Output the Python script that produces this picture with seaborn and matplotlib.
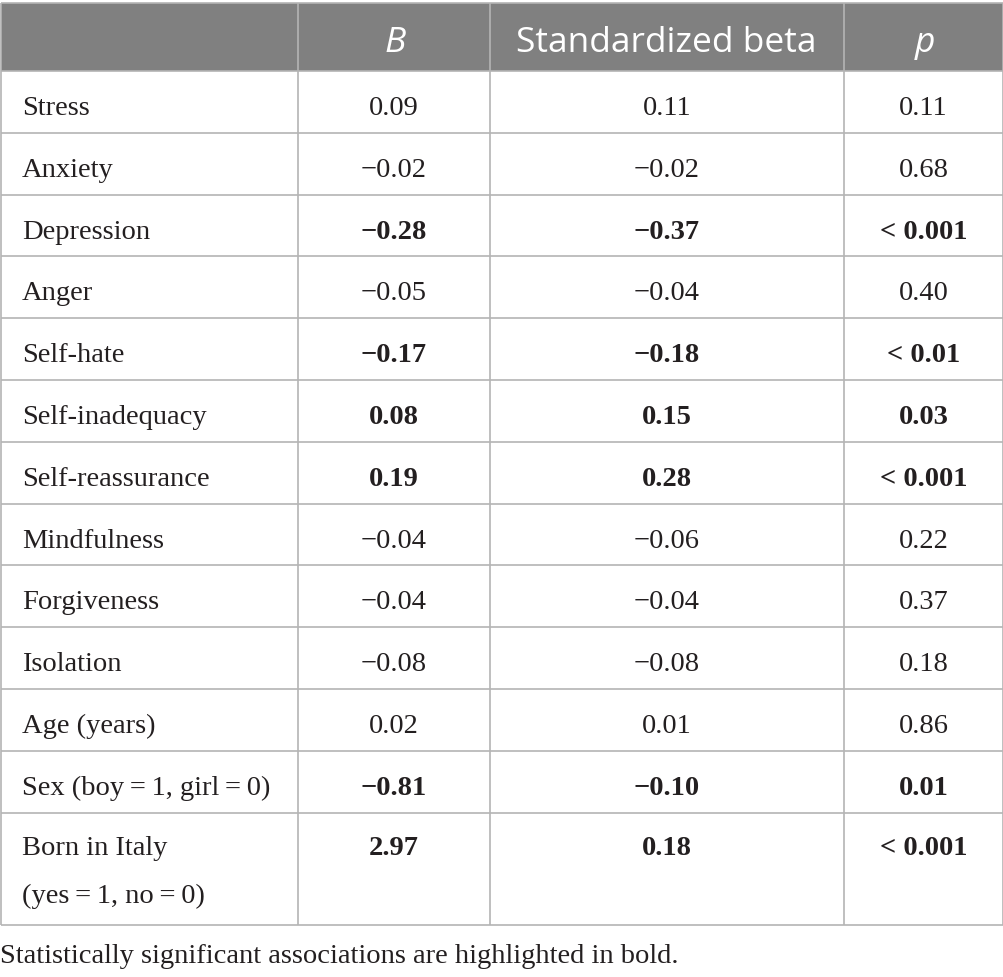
import matplotlib
matplotlib.use("Agg")
import matplotlib.pyplot as plt
import seaborn as sns

# table content
variables = ["Stress", "Anxiety", "Depression", "Anger", "Self-hate", "Self-inadequacy",
             "Self-reassurance", "Mindfulness", "Forgiveness", "Isolation", "Age (years)",
             "Sex (boy\u2009=\u20091, girl\u2009=\u20090)", "Born in Italy\n(yes\u2009=\u20091, no\u2009=\u20090)"]
b_vals = ["0.09", "\u22120.02", "\u22120.28", "\u22120.05", "\u22120.17", "0.08", "0.19",
          "\u22120.04", "\u22120.04", "\u22120.08", "0.02", "\u22120.81", "2.97"]
beta_vals = ["0.11", "\u22120.02", "\u22120.37", "\u22120.04", "\u22120.18", "0.15", "0.28",
             "\u22120.06", "\u22120.04", "\u22120.08", "0.01", "\u22120.10", "0.18"]
p_vals = ["0.11", "0.68", "< 0.001", "0.40", "< 0.01", "0.03", "< 0.001",
          "0.22", "0.37", "0.18", "0.86", "0.01", "< 0.001"]
significant = [False, False, True, False, True, True, True,
               False, False, False, False, True, True]
headers = ["", "B", "Standardized beta", "p"]
footnote = "Statistically significant associations are highlighted in bold."

sns.set_theme(style="white")
plt.rcParams['font.family'] = ['Liberation Serif', 'DejaVu Serif']
plt.rcParams['text.color'] = "#231f20"

W, H = 1004, 978
fig = plt.figure(figsize=(W / 100, H / 100), dpi=100)
ax = fig.add_axes([0, 0, 1, 1])
ax.set_xlim(0, W)
ax.set_ylim(H, 0)
ax.axis("off")

# layout (pixels)
col_edges = [0.5, 298, 490, 844, 1003]
top = 4
header_h = 68
row_h = 61.8
heights = [row_h] * (len(variables) - 1) + [112]
row_tops = [top + header_h]
for h in heights:
    row_tops.append(row_tops[-1] + h)
bottom = row_tops[-1]

line_col = "#b4b4b4"
header_col = "#808080"
fs = 20.5

# header background
ax.fill_between([col_edges[0], col_edges[-1]], top, top + header_h, color=header_col, lw=0)

# grid lines
for y in [top] + row_tops:
    ax.plot([col_edges[0], col_edges[-1]], [y, y], color=line_col, lw=1.2, solid_capstyle="butt")
for x in col_edges:
    ax.plot([x, x], [top, bottom], color=line_col, lw=1.2, solid_capstyle="butt")

centers = [(col_edges[i] + col_edges[i + 1]) / 2 for i in range(4)]

# header text
for i, txt in enumerate(headers):
    if not txt:
        continue
    italic = len(txt) == 1
    ax.text(centers[i] + (1 if italic else -1), top + 48, txt, color="white", fontsize=25.5,
            family=["Open Sans", "DejaVu Sans"], style="italic" if italic else "normal",
            ha="center", va="baseline")

# body
for r, name in enumerate(variables):
    y0 = row_tops[r]
    weight = "bold" if significant[r] else "normal"
    base = y0 + 43 if r < len(variables) - 1 else y0 + 41
    for k, line in enumerate(name.split("\n")):
        ax.text(22, base + 48 * k, line, fontsize=fs, ha="left", va="baseline")
    for c, vals in zip([1, 2, 3], [b_vals, beta_vals, p_vals]):
        ax.text(centers[c], base, vals[r], fontsize=fs, ha="center", va="baseline", weight=weight)

ax.text(0, bottom + 37, footnote, fontsize=fs, ha="left", va="baseline")

fig.savefig("out.png", dpi=100)
